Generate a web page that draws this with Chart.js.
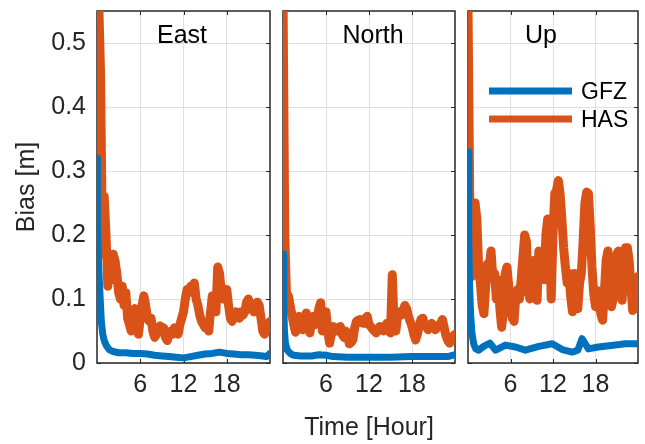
<!DOCTYPE html>
<html>
<head>
<meta charset="utf-8">
<script src="https://cdn.jsdelivr.net/npm/chart.js@4.4.1/dist/chart.umd.min.js"></script>
<style>
  html, body { margin: 0; padding: 0; background: #fff; }
  #wrap { position: relative; width: 645px; height: 444px; overflow: hidden; }
  #wrap canvas { position: absolute; left: 0; top: 0; }
</style>
</head>
<body>
<div id="wrap">
  <canvas id="east" width="645" height="444"></canvas>
  <canvas id="north" width="645" height="444"></canvas>
  <canvas id="up" width="645" height="444"></canvas>
</div>
<script>
// ---- data -------------------------------------------------------------
// HAS bias is sampled every 15 minutes over the 24 h session.
const HAS_STEP_HOURS = 0.25;

const EAST_HAS = [
  0.37, 0.56, 0.45, 0.17, 0.26, 0.20, 0.12, 0.15,
  0.13, 0.17, 0.16, 0.14, 0.11, 0.10, 0.12, 0.09,
  0.11, 0.07, 0.06, 0.05, 0.07, 0.085, 0.06, 0.045,
  0.07, 0.09, 0.105, 0.09, 0.07, 0.065, 0.07, 0.05,
  0.04, 0.045, 0.05, 0.058, 0.05, 0.055, 0.04, 0.035,
  0.045, 0.05, 0.045, 0.055, 0.05, 0.045, 0.06, 0.07,
  0.08, 0.10, 0.115, 0.11, 0.12, 0.115, 0.125, 0.10,
  0.09, 0.075, 0.065, 0.06, 0.055, 0.06, 0.05, 0.08,
  0.105, 0.10, 0.08, 0.15, 0.14, 0.11, 0.10, 0.11,
  0.115, 0.09, 0.07, 0.065, 0.075, 0.08, 0.075, 0.07,
  0.08, 0.075, 0.08, 0.095, 0.10, 0.09, 0.085, 0.08,
  0.09, 0.095, 0.09, 0.07, 0.05, 0.045, 0.06, 0.055,
  0.065
];

const NORTH_HAS = [
  0.58, 0.20, 0.10, 0.105, 0.09, 0.075, 0.06, 0.048,
  0.06, 0.073, 0.06, 0.052, 0.07, 0.078, 0.06, 0.047,
  0.065, 0.073, 0.06, 0.065, 0.085, 0.094, 0.05, 0.065,
  0.08, 0.05, 0.031, 0.045, 0.057, 0.055, 0.05, 0.055,
  0.057, 0.045, 0.04, 0.05, 0.045, 0.03, 0.032, 0.036,
  0.055, 0.065, 0.067, 0.068, 0.063, 0.062, 0.07, 0.073,
  0.06, 0.057, 0.053, 0.05, 0.047, 0.052, 0.057, 0.053,
  0.05, 0.057, 0.062, 0.05, 0.047, 0.138, 0.06, 0.05,
  0.075, 0.08, 0.075, 0.08, 0.09, 0.085, 0.073, 0.065,
  0.057, 0.045, 0.036, 0.045, 0.057, 0.068, 0.07, 0.06,
  0.057, 0.052, 0.055, 0.062, 0.058, 0.052, 0.055, 0.057,
  0.062, 0.068, 0.055, 0.042, 0.035, 0.031, 0.038, 0.042,
  0.045
];

const UP_HAS = [
  0.56, 0.25, 0.135, 0.16, 0.25, 0.225, 0.15, 0.124,
  0.09, 0.077, 0.12, 0.155, 0.15, 0.175, 0.135, 0.14,
  0.10, 0.13, 0.085, 0.056, 0.08, 0.14, 0.15, 0.12,
  0.09, 0.07, 0.065, 0.105, 0.115, 0.10, 0.13, 0.165,
  0.20, 0.19, 0.11, 0.10, 0.12, 0.16, 0.14, 0.098,
  0.175, 0.17, 0.145, 0.13, 0.20, 0.225, 0.20, 0.10,
  0.20, 0.265, 0.27, 0.285, 0.265, 0.225, 0.18, 0.15,
  0.125, 0.14, 0.103, 0.08, 0.14, 0.10, 0.085, 0.125,
  0.14, 0.19, 0.25, 0.267, 0.265, 0.215, 0.15, 0.108,
  0.088, 0.113, 0.10, 0.077, 0.067, 0.11, 0.16, 0.175,
  0.11, 0.088, 0.10, 0.13, 0.17, 0.175, 0.12, 0.098,
  0.145, 0.18, 0.18, 0.16, 0.12, 0.082, 0.085, 0.11,
  0.135
];

// GFZ bias converges smoothly, so it is kept at its own (uneven) epochs.
const EAST_GFZ_HOURS = [0, 0.05, 0.2, 0.4, 0.6, 0.8, 1.0, 1.3, 1.7, 2.2, 3, 4, 5, 6, 7, 8, 9, 10, 11, 12, 13, 14, 15, 16, 17, 18, 19, 20, 21, 22, 23, 23.5, 24];
const EAST_GFZ = [0.32, 0.22, 0.16, 0.11, 0.065, 0.045, 0.035, 0.027, 0.021, 0.018, 0.016, 0.016, 0.015, 0.015, 0.014, 0.012, 0.011, 0.010, 0.009, 0.008, 0.010, 0.012, 0.014, 0.015, 0.017, 0.015, 0.014, 0.013, 0.013, 0.012, 0.011, 0.010, 0.015];

const NORTH_GFZ_HOURS = [0, 0.1, 0.2, 0.35, 0.6, 1.0, 1.5, 2.5, 4, 5, 6, 7, 9, 12, 15, 18, 21, 23, 24];
const NORTH_GFZ = [0.17, 0.10, 0.05, 0.03, 0.02, 0.015, 0.012, 0.011, 0.011, 0.013, 0.012, 0.010, 0.009, 0.009, 0.009, 0.010, 0.010, 0.010, 0.013];

const UP_GFZ_HOURS = [0, 0.1, 0.2, 0.35, 0.55, 0.8, 1.1, 1.5, 2.2, 3.1, 3.9, 5.3, 6.7, 8.1, 10, 11.9, 13.3, 14.7, 15.5, 16.1, 17, 18.4, 20.8, 22.2, 24];
const UP_GFZ = [0.33, 0.20, 0.13, 0.08, 0.047, 0.03, 0.022, 0.02, 0.026, 0.031, 0.02, 0.028, 0.025, 0.02, 0.026, 0.03, 0.021, 0.017, 0.02, 0.038, 0.022, 0.025, 0.028, 0.03, 0.03];

const SERIES_NAMES = ['GFZ', 'HAS'];
const PANEL_NAMES = ['East', 'North', 'Up'];
const X_TICKS = [6, 12, 18];
const Y_TICKS = [0, 0.1, 0.2, 0.3, 0.4, 0.5];
const X_LABEL = 'Time [Hour]';
const Y_LABEL = 'Bias [m]';

// ---- styling ----------------------------------------------------------
const FONT = "'Liberation Sans', Arial, Helvetica, sans-serif";
const BLUE = '#0072BD';
const ORANGE = '#D95319';
const AXIS_COLOR = '#262626';
const GRID_COLOR = '#e0e0e0';

function pairs(xs, ys) {
  return ys.map((y, i) => ({ x: xs[i], y }));
}
const hasHours = EAST_HAS.map((_, i) => i * HAS_STEP_HOURS);

// Box around the axes plus short inward tick marks on all four sides.
const framePlugin = {
  id: 'frame',
  beforeDatasetsDraw(chart) {
    const { ctx, chartArea: a, scales: { x, y } } = chart;
    const len = 4;
    ctx.save();
    ctx.strokeStyle = AXIS_COLOR;
    ctx.lineWidth = 1;
    ctx.beginPath();
    y.ticks.forEach(t => {
      const py = Math.round(y.getPixelForValue(t.value)) + 0.5;
      ctx.moveTo(a.left, py); ctx.lineTo(a.left + len, py);
      ctx.moveTo(a.right, py); ctx.lineTo(a.right - len, py);
    });
    x.ticks.forEach(t => {
      const px = Math.round(x.getPixelForValue(t.value)) + 0.5;
      ctx.moveTo(px, a.top); ctx.lineTo(px, a.top + len);
      ctx.moveTo(px, a.bottom); ctx.lineTo(px, a.bottom - len);
    });
    ctx.stroke();
    ctx.lineWidth = 1.5;
    ctx.strokeRect(a.left, a.top, a.right - a.left, a.bottom - a.top);
    ctx.restore();
  }
};

// Component name written inside the top of each axes.
const labelPlugin = {
  id: 'panelLabel',
  afterDatasetsDraw(chart, args, opts) {
    const { ctx, chartArea: a } = chart;
    ctx.save();
    ctx.font = `25px ${FONT}`;
    ctx.fillStyle = '#000';
    ctx.textAlign = 'center';
    ctx.textBaseline = 'alphabetic';
    ctx.fillText(opts.text, a.left + opts.dx, a.top + 32);
    ctx.restore();
  }
};

// Boxless legend in the upper right of the last panel.
const legendPlugin = {
  id: 'panelLegend',
  afterDatasetsDraw(chart, args, opts) {
    if (!opts.show) return;
    const { ctx, chartArea: a } = chart;
    ctx.save();
    chart.data.datasets.forEach((ds, i) => {
      const y = a.top + 80 + i * 28;
      ctx.strokeStyle = ds.borderColor;
      ctx.lineWidth = 7;
      ctx.lineCap = 'butt';
      ctx.beginPath();
      ctx.moveTo(a.left + 21, y);
      ctx.lineTo(a.left + 104, y);
      ctx.stroke();
      ctx.fillStyle = '#000';
      ctx.font = `23px ${FONT}`;
      ctx.textAlign = 'left';
      ctx.textBaseline = 'alphabetic';
      ctx.fillText(ds.label, a.left + 113, y + 8);
    });
    ctx.restore();
  }
};

function makePanel(id, cfg) {
  const lineStyle = {
    pointRadius: 0,
    tension: 0,
    borderJoinStyle: 'round',
    borderCapStyle: 'round',
    fill: false
  };
  return new Chart(document.getElementById(id), {
    type: 'line',
    data: {
      datasets: [
        { label: SERIES_NAMES[0], data: pairs(cfg.gfzHours, cfg.gfz), borderColor: BLUE, borderWidth: 7, ...lineStyle },
        { label: SERIES_NAMES[1], data: pairs(hasHours, cfg.has), borderColor: ORANGE, borderWidth: 9, ...lineStyle }
      ]
    },
    options: {
      responsive: false,
      animation: false,
      devicePixelRatio: 1,
      parsing: false,
      layout: { padding: { left: cfg.padLeft, right: cfg.padRight, top: 11, bottom: 0 } },
      scales: {
        x: {
          type: 'linear',
          min: 0,
          max: 24,
          afterBuildTicks: s => { s.ticks = X_TICKS.map(v => ({ value: v })); },
          afterFit: s => { s.height = 81; s.paddingLeft = 0; s.paddingRight = 0; },
          grid: { color: GRID_COLOR, drawTicks: false, lineWidth: 1 },
          border: { display: false },
          ticks: {
            color: AXIS_COLOR,
            font: { family: FONT, size: 25 },
            padding: 7,
            maxRotation: 0,
            autoSkip: false,
            callback: v => String(v)
          },
          title: {
            display: !!cfg.xTitle,
            text: X_LABEL,
            color: AXIS_COLOR,
            font: { family: FONT, size: 25 },
            padding: { top: 0, bottom: 1 }
          }
        },
        y: {
          type: 'linear',
          min: 0,
          max: 0.55,
          afterBuildTicks: s => { s.ticks = Y_TICKS.map(v => ({ value: v })); },
          afterFit: s => { s.width = cfg.yWidth; s.paddingTop = 0; s.paddingBottom = 0; },
          grid: { color: GRID_COLOR, drawTicks: false, lineWidth: 1 },
          border: { display: false },
          ticks: {
            display: cfg.showY,
            color: AXIS_COLOR,
            font: { family: FONT, size: 25 },
            padding: 11,
            callback: v => (v === 0 ? '0' : v.toFixed(1))
          },
          title: {
            display: cfg.showY,
            text: Y_LABEL,
            color: AXIS_COLOR,
            font: { family: FONT, size: 25 },
            padding: { top: 12, bottom: 0 }
          }
        }
      },
      plugins: {
        legend: { display: false },
        tooltip: { enabled: false },
        panelLabel: { text: cfg.name, dx: cfg.labelDx },
        panelLegend: { show: !!cfg.legend }
      }
    },
    plugins: [framePlugin, labelPlugin, legendPlugin]
  });
}

makePanel('east', {
  name: PANEL_NAMES[0], has: EAST_HAS, gfz: EAST_GFZ, gfzHours: EAST_GFZ_HOURS,
  padLeft: 0, yWidth: 97, padRight: 375, showY: true, labelDx: 85
});
makePanel('north', {
  name: PANEL_NAMES[1], has: NORTH_HAS, gfz: NORTH_GFZ, gfzHours: NORTH_GFZ_HOURS,
  padLeft: 283, yWidth: 0, padRight: 190, showY: false, labelDx: 90, xTitle: true
});
makePanel('up', {
  name: PANEL_NAMES[2], has: UP_HAS, gfz: UP_GFZ, gfzHours: UP_GFZ_HOURS,
  padLeft: 468, yWidth: 0, padRight: 7, showY: false, labelDx: 73, legend: true
});
</script>
</body>
</html>
